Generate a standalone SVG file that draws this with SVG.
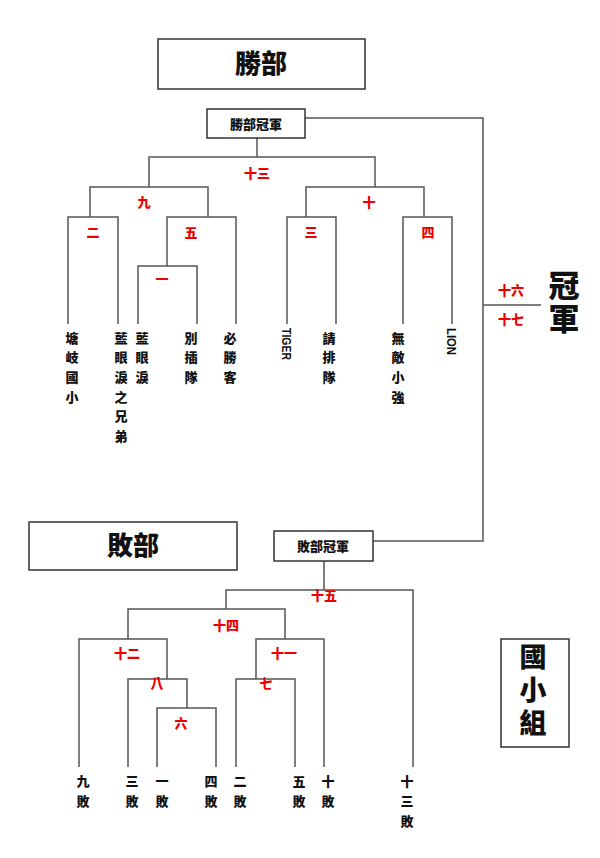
<svg xmlns="http://www.w3.org/2000/svg" width="600" height="858" viewBox="0 0 600 858">
<style>
text{font-family:"Noto Sans CJK TC","Noto Sans CJK SC",sans-serif;font-weight:900;}
.box{fill:#fff;stroke:#333;stroke-width:1.5;}
.ln{fill:none;stroke:#555;stroke-width:1.5;}
.red{fill:#ee0000;font-size:13px;text-anchor:middle;}
.nm{fill:#111;font-size:13px;text-anchor:middle;}
.lat{fill:#111;font-size:13px;font-family:"Liberation Sans",Arial,sans-serif;font-weight:bold;}
.big{fill:#111;text-anchor:middle;}
.vt{fill:#111;text-anchor:middle;writing-mode:vertical-rl;}
</style>
<rect width="600" height="858" fill="#fff"/>
<g id="connectors">
<path class="ln" d="M305,118 H483 V541 H373"/>
<path class="ln" d="M483,305 H541"/>
<path class="ln" d="M257,138 V157 M149,187 V157 H375 V187"/>
<path class="ln" d="M90,217 V187 H208 V217"/>
<path class="ln" d="M306,217 V187 H424 V217"/>
<path class="ln" d="M68,324 V217 H118 V324"/>
<path class="ln" d="M167,266 V217 H236 V324"/>
<path class="ln" d="M138,324 V266 H197 V324"/>
<path class="ln" d="M287,324 V217 H336 V324"/>
<path class="ln" d="M403,324 V217 H452 V324"/>
<path class="ln" d="M324,561 V590 M226,609 V590 H413 V767"/>
<path class="ln" d="M128,639 V609 H285 V639"/>
<path class="ln" d="M79,767 V639 H167 V679"/>
<path class="ln" d="M256,679 V639 H324 V767"/>
<path class="ln" d="M128,767 V679 H187 V708"/>
<path class="ln" d="M157,767 V708 H216 V767"/>
<path class="ln" d="M236,767 V679 H295 V767"/>
</g>
<g id="title-win"><rect class="box" x="158" y="39" width="207" height="50"/><text class="big" x="261" y="73" font-size="26">勝部</text></g>
<g id="win-champ"><rect class="box" x="207" y="109" width="98" height="29"/><text class="nm" x="256" y="128.5">勝部冠軍</text></g>
<g id="title-lose"><rect class="box" x="29" y="522" width="208" height="48"/><text class="big" x="133" y="555" font-size="26">敗部</text></g>
<g id="lose-champ"><rect class="box" x="274" y="531" width="99" height="30"/><text class="nm" x="323" y="550.5">敗部冠軍</text></g>
<g id="group-label"><rect class="box" x="501" y="639" width="68" height="108"/>
<text class="vt" font-size="27" letter-spacing="6" x="533" y="693">國小組</text></g>
<g id="champion">
<text class="vt" font-size="31" letter-spacing="2" x="564" y="302.5">冠軍</text></g>
<g id="match-labels">
<text class="red" x="257" y="177.5">十三</text>
<text class="red" x="144" y="206.5">九</text>
<text class="red" x="369" y="206.5">十</text>
<text class="red" x="93" y="236.5">二</text>
<text class="red" x="191" y="236.5">五</text>
<text class="red" x="311" y="236.5">三</text>
<text class="red" x="428" y="236.5">四</text>
<text class="red" x="162" y="283.5">一</text>
<text class="red" x="511" y="294.5">十六</text>
<text class="red" x="511" y="323.5">十七</text>
<text class="red" x="324" y="599.5">十五</text>
<text class="red" x="226" y="629.5">十四</text>
<text class="red" x="127" y="657.5">十二</text>
<text class="red" x="284" y="657.5">十一</text>
<text class="red" x="157" y="687.5">八</text>
<text class="red" x="266" y="687.5">七</text>
<text class="red" x="181" y="727.5">六</text>
</g>
<g id="teams">
<text class="nm"><tspan x="72" y="342.5">塘</tspan><tspan x="72" dy="19.7">岐</tspan><tspan x="72" dy="19.7">國</tspan><tspan x="72" dy="19.7">小</tspan></text>
<text class="nm"><tspan x="121" y="342.5">藍</tspan><tspan x="121" dy="19.7">眼</tspan><tspan x="121" dy="19.7">淚</tspan><tspan x="121" dy="19.7">之</tspan><tspan x="121" dy="19.7">兄</tspan><tspan x="121" dy="19.7">弟</tspan></text>
<text class="nm"><tspan x="142" y="342.5">藍</tspan><tspan x="142" dy="19.7">眼</tspan><tspan x="142" dy="19.7">淚</tspan></text>
<text class="nm"><tspan x="191" y="342.5">別</tspan><tspan x="191" dy="19.7">插</tspan><tspan x="191" dy="19.7">隊</tspan></text>
<text class="nm"><tspan x="230" y="342.5">必</tspan><tspan x="230" dy="19.7">勝</tspan><tspan x="230" dy="19.7">客</tspan></text>
<text class="lat" transform="translate(282,328) rotate(90)" textLength="32" lengthAdjust="spacingAndGlyphs">TIGER</text>
<text class="nm"><tspan x="329" y="342.5">請</tspan><tspan x="329" dy="19.7">排</tspan><tspan x="329" dy="19.7">隊</tspan></text>
<text class="nm"><tspan x="398" y="342.5">無</tspan><tspan x="398" dy="19.7">敵</tspan><tspan x="398" dy="19.7">小</tspan><tspan x="398" dy="19.7">強</tspan></text>
<text class="lat" transform="translate(447,328) rotate(90)" textLength="27" lengthAdjust="spacingAndGlyphs">LION</text>
</g>
<g id="losers">
<text class="nm"><tspan x="83" y="785.5">九</tspan><tspan x="83" dy="20">敗</tspan></text>
<text class="nm"><tspan x="132" y="785.5">三</tspan><tspan x="132" dy="20">敗</tspan></text>
<text class="nm"><tspan x="162" y="785.5">一</tspan><tspan x="162" dy="20">敗</tspan></text>
<text class="nm"><tspan x="211" y="785.5">四</tspan><tspan x="211" dy="20">敗</tspan></text>
<text class="nm"><tspan x="240" y="785.5">二</tspan><tspan x="240" dy="20">敗</tspan></text>
<text class="nm"><tspan x="299" y="785.5">五</tspan><tspan x="299" dy="20">敗</tspan></text>
<text class="nm"><tspan x="328" y="785.5">十</tspan><tspan x="328" dy="20">敗</tspan></text>
<text class="nm"><tspan x="407" y="785.5">十</tspan><tspan x="407" dy="20">三</tspan><tspan x="407" dy="20">敗</tspan></text>
</g>
</svg>
